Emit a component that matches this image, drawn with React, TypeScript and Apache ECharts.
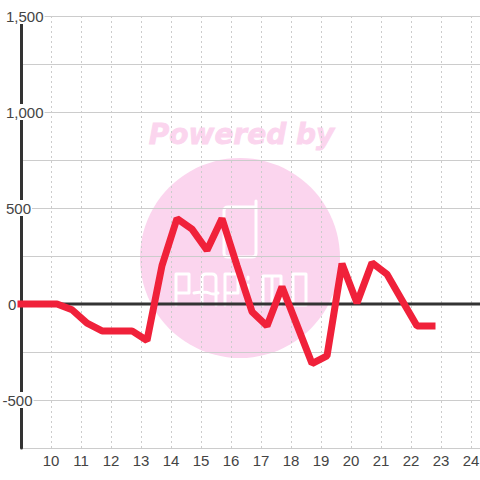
import React, { useEffect, useRef } from "react";
import * as echarts from "echarts";

const hours = [9, 9.2, 9.7, 10.2, 10.7, 11.2, 11.7, 12.2, 12.7, 13.2, 13.7, 14.2, 14.7, 15.2, 15.7, 16.2, 16.7, 17.2, 17.7, 18.2, 18.7, 19.2, 19.7, 20.2, 20.7, 21.2, 21.7, 22.2, 22.7];
const netValues = [0, 0, 0, 0, -30, -100, -140, -140, -140, -190, 200, 445, 390, 280, 445, 200, -40, -115, 90, -110, -310, -270, 210, 5, 215, 155, 20, -115, -115];
const zeroLine = [[9, 0], [24.3, 0]];
const xRange = [9, 24.3];
const yRange = [-750, 1500];
const watermarkTitle = "Powered by";

const LOGO =
  "M256 201 L256 253 Q256 257 252 257 L228 257 Q224 257 224 253 L224 211 Q224 207 228 207 L256 207 " +
  "M176 305 L176 274 L189 274 L189 293 L176 293 " +
  "M202 305 L202 278 Q202 274 206 274 L212 274 Q216 274 216 278 L216 305 M194 293 Q205 291 209 293 Q213 295 218 293 " +
  "M225 305 L225 274 L238 274 L238 293 L225 293 " +
  "M248 285 L248 305 M248 277 L248 279 " +
  "M263 305 L263 276 L272 276 L272 305 M272 276 L281 276 L281 305 " +
  "M293 274 L306 274 L306 305 L293 305 Z";

export default function App() {
  const ref = useRef<HTMLDivElement>(null);
  useEffect(() => {
    const chart = echarts.init(ref.current!, null, { renderer: "svg" });
    echarts.graphic.registerShape("papimoLogo", echarts.graphic.extendPath(LOGO, {}));
    const labelBase = {
      fontSize: 15,
      fontFamily: "Liberation Sans",
      color: "#444",
      backgroundColor: "#fff",
      height: 16,
      lineHeight: 16,
    };
    chart.setOption({
      animation: false,
      backgroundColor: "#fff",
      grid: { left: 21, right: 0, top: 16, bottom: 32, containLabel: false, outerBoundsMode: "none" },
      graphic: {
        elements: [
          { type: "circle", z: -1, silent: true, shape: { cx: 240, cy: 258, r: 100 }, style: { fill: "#fbd5ee" } },
          { type: "papimoLogo", z: -1, silent: true, x: 0, y: 0, style: { fill: "none", stroke: "#fff", lineWidth: 3, lineCap: "round", lineJoin: "round" } },
          {
            type: "text", z: -1, silent: true, x: 241.5, y: 134.5,
            style: {
              text: watermarkTitle, fill: "#fbd5ee", stroke: "#fbd5ee", lineWidth: 0.8, align: "center", verticalAlign: "middle",
              font: "italic bold 28px 'DejaVu Sans'",
            },
          },
        ],
      },
      xAxis: {
        type: "value",
        min: xRange[0],
        max: xRange[1],
        interval: 1,
        axisLine: { show: false },
        axisTick: { show: false },
        axisLabel: {
          showMinLabel: false,
          showMaxLabel: false,
          margin: 5,
          fontSize: 15,
          fontFamily: "Liberation Sans",
          color: "#444",
        },
        splitLine: { show: true, lineStyle: { color: "#ccc", width: 1, type: [2, 3] } },
      },
      yAxis: {
        type: "value",
        min: yRange[0],
        max: yRange[1],
        interval: 250,
        axisLine: { show: true, onZero: false, lineStyle: { color: "#333", width: 3 } },
        axisTick: { show: false },
        axisLabel: {
          align: "left",
          margin: 18.5,
          formatter: (v: number) => {
            if (v % 500 !== 0) return "";
            const s = Math.abs(v) >= 1000 ? v.toLocaleString("en-US") : String(v);
            const key = v < 0 ? "neg" : v === 0 ? "zero" : "pos";
            return `{${key}|${s}}`;
          },
          rich: {
            neg: { ...labelBase, padding: [0, 1, 0, 0] },
            zero: { ...labelBase, padding: [0, 1, 0, 5.5] },
            pos: { ...labelBase, padding: [0, 1, 0, 3.5] },
          },
        },
        splitLine: { show: true, lineStyle: { color: "#ccc", width: 1 } },
      },
      series: [
        {
          type: "line", data: zeroLine, symbol: "none", silent: true, z: 1,
          lineStyle: { color: "#333", width: 3 },
        },
        {
          type: "line",
          data: hours.map((h, i) => [h, netValues[i]]),
          symbol: "none",
          clip: false,
          z: 3,
          lineStyle: { color: "#f0213a", width: 7, cap: "square", join: "bevel" },
        },
      ],
    });
    return () => chart.dispose();
  }, []);
  return <div ref={ref} style={{ position: "absolute", left: 0, top: 0, width: 480, height: 480 }} />;
}
